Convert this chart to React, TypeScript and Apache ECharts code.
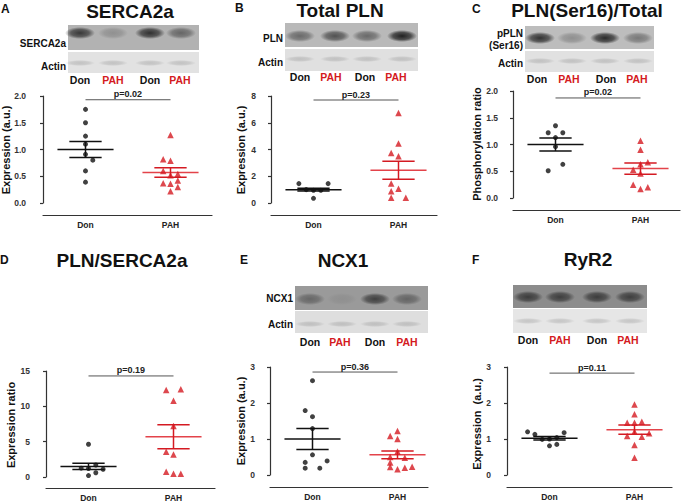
import { useEffect, useRef } from 'react';
import * as echarts from 'echarts';

// ---------- data ----------
const groups = ['Don', 'PAH'];
const panelLetters = ['A', 'B', 'C', 'D', 'E', 'F'];
const panelTitles = ['SERCA2a', 'Total PLN', 'PLN(Ser16)/Total', 'PLN/SERCA2a', 'NCX1', 'RyR2'];
const yAxisNames = ['Expression (a.u.)', 'Expression (a.u.)', 'Phosphorylation ratio', 'Expression ratio', 'Expression (a.u.)', 'Expression  (a.u.)'];
const pTexts = ['p=0.02', 'p=0.23', 'p=0.02', 'p=0.19', 'p=0.36', 'p=0.11'];
const yMax = [2, 8, 2, 15, 3, 3];
const yInterval = [0.5, 2, 0.5, 5, 1, 1];
const yDecimals = [1, 0, 1, 0, 0, 0];
const pLevel = [1.93, 7.7, 1.87, 14.3, 2.86, 2.83];

const donSERCA = [1.75, 1.5, 1.25, 1.1, 0.91, 0.8, 0.6, 0.39];
const donSERCACol = [0, 0, 0, 0, 0, 1, 0, 0];
const pahSERCA = [1.27, 0.82, 0.79, 0.6, 0.52, 0.54, 0.37, 0.36, 0.42, 0.3, 0.22];
const pahSERCACol = [0, -1, 0, -1, 0, 1, -1, 0, 1, 1, 0];

const donPLN = [1.45, 1.45, 1.0, 0.95, 0.95, 0.35];
const donPLNCol = [-2, 2, -1, 0, 1, 0];
const pahPLN = [6.73, 4.44, 3.74, 3.49, 1.45, 1.07, 0.87, 0.4, 0.4];
const pahPLNCol = [0, 0, -1, 0, -1, 0, -1, -1, 1];

const donPhos = [1.35, 1.22, 1.22, 1.13, 0.96, 0.63, 0.51];
const donPhosCol = [0, -1, 1, 0, 0, 1, -1];
const pahPhos = [1.07, 0.9, 0.63, 0.67, 0.53, 0.46, 0.25, 0.17, 0.2];
const pahPhosCol = [0, 0, 0, 1, -1, 0, -1, 0, 1];

const donRatio = [4.63, 1.25, 1.2, 1.7, 1.1, 0.2, 0.6];
const donRatioCol = [0, -1, 0, 1, 2, 0, 1];
const pahRatio = [12.3, 12.4, 10.8, 7.2, 3.56, 3.2, 0.75, 0.47, 0.47];
const pahRatioCol = [-1, 1, 0, 0, -1, 0, -1, 0, 1];

const donNCX = [2.62, 1.79, 1.62, 1.29, 0.56, 0.35, 0.39, 0.19, 0.19];
const donNCXCol = [0, -1, 0, 0, 0, -1, 2, -1, 1];
const pahNCX = [1.22, 1.08, 1.0, 0.65, 0.5, 0.48, 0.35, 0.22, 0.16, 0.2, 0.23];
const pahNCXCol = [0, -1, 0, 0, -1, 1, -1, -1, 0, 1, 2];

const donRyR = [1.2, 1.13, 1.175, 0.99, 1.0, 1.04, 0.81, 0.85];
const donRyRCol = [-3, -2, 2, -1, 0, 1, 0, 1];
const pahRyR = [1.96, 1.69, 1.45, 1.45, 1.48, 1.2, 1.08, 1.06, 1.16, 0.83, 0.48];
const pahRyRCol = [0, 0, -1, 0, 1, 0, -1, 1, 2, 0, 0];

const donMean = [1.0, 1.0, 1.0, 1.5, 1.0, 1.02];
const donSem = [0.15, 0.1, 0.12, 0.45, 0.29, 0.05];
const pahMean = [0.57, 2.45, 0.55, 5.7, 0.56, 1.26];
const pahSem = [0.09, 0.67, 0.105, 1.7, 0.11, 0.13];

const donAll = [donSERCA, donPLN, donPhos, donRatio, donNCX, donRyR];
const donCols = [donSERCACol, donPLNCol, donPhosCol, donRatioCol, donNCXCol, donRyRCol];
const pahAll = [pahSERCA, pahPLN, pahPhos, pahRatio, pahNCX, pahRyR];
const pahCols = [pahSERCACol, pahPLNCol, pahPhosCol, pahRatioCol, pahNCXCol, pahRyRCol];

// ---------- layout / style ----------
const FONT = '"Liberation Sans", Arial, sans-serif';
const RED = '#d41a22';
const RED_MEAN = '#e3434a';
const BLACK = '#111';
const PX_PER_UNIT = 85;
const COL_W = 0.086;

const layouts = [
  { left: 43, top: 96, width: 169, height: 107, xOff: 12, yOff: 13, titleX: 130, titleY: 11.6, letterX: 1, letterY: 9, nameX: 6, nameY: 150 },
  { left: 271, top: 96, width: 166, height: 107, xOff: 12, yOff: 11, titleX: 340, titleY: 10.5, letterX: 235, letterY: 7.5, nameX: 241, nameY: 150 },
  { left: 513, top: 91, width: 167, height: 107, xOff: 12, yOff: 11, titleX: 587, titleY: 10.8, letterX: 472, letterY: 9, nameX: 477, nameY: 144 },
  { left: 46, top: 371, width: 169, height: 107, xOff: 11, yOff: 12, titleX: 122, titleY: 260, letterX: 0, letterY: 260, nameX: 11, nameY: 425 },
  { left: 270, top: 367, width: 158, height: 108, xOff: 12, yOff: 11, titleX: 343, titleY: 260, letterX: 240, letterY: 260, nameX: 241, nameY: 421 },
  { left: 507, top: 367, width: 165, height: 108, xOff: 12, yOff: 12, titleX: 588, titleY: 259.5, letterX: 472, letterY: 260, nameX: 477, nameY: 424 },
];

const blots = [
  { x: 68, w: 131, y1: 25, h1: 25, y2: 52, h2: 21, bg1: '#b2b2b2', bg2: '#e2e2e2', lanes: [80, 113, 150, 181], ints: [0.8, 0.22, 0.85, 0.5], bandY: 33, actinY: 63, labels: [['SERCA2a', 43], ['Actin', 66]], laneY: 80, laneX: [80, 113, 150, 180] },
  { x: 285, w: 133, y1: 23, h1: 24, y2: 49, h2: 22, bg1: '#b9b9b9', bg2: '#e0e0e0', lanes: [300, 335, 367, 402], ints: [0.5, 0.65, 0.5, 0.95], bandY: 36, actinY: 59, labels: [['PLN', 38], ['Actin', 62]], laneY: 77, laneX: [300, 331, 365, 396] },
  { x: 525, w: 129, y1: 26, h1: 23, y2: 51, h2: 21, bg1: '#bdbdbd', bg2: '#e1e1e1', lanes: [540, 572, 605, 638], ints: [0.85, 0.28, 0.9, 0.42], bandY: 38, actinY: 61, labels: [['pPLN', 33], ['(Ser16)', 45], ['Actin', 63]], laneY: 79, laneX: [537, 569, 606, 637] },
  null,
  { x: 295, w: 133, y1: 286, h1: 24, y2: 311, h2: 22, bg1: '#9a9a9a', bg2: '#dedede', lanes: [310, 342, 375, 407], ints: [0.4, 0.08, 0.7, 0.42], bandY: 299, actinY: 324, labels: [['NCX1', 298], ['Actin', 324]], laneY: 342, laneX: [310, 340, 375, 407] },
  { x: 513, w: 134, y1: 285, h1: 23, y2: 309, h2: 24, bg1: '#8c8c8c', bg2: '#e6e6e6', lanes: [528, 560, 597, 630], ints: [0.7, 0.68, 0.7, 0.68], bandY: 297, actinY: 321, labels: [], laneY: 340, laneX: [528, 560, 597, 628] },
];

function band(cx: number, cy: number, rx: number, ry: number, a: number) {
  return {
    type: 'ellipse',
    shape: { cx, cy, rx, ry },
    style: {
      fill: new echarts.graphic.RadialGradient(0.5, 0.5, 0.5, [
        { offset: 0, color: `rgba(25,25,25,${a})` },
        { offset: 0.6, color: `rgba(25,25,25,${a * 0.7})` },
        { offset: 1, color: 'rgba(25,25,25,0)' },
      ]),
    },
    silent: true,
  };
}

function txt(text: string, x: number, y: number, size: number, opts: any = {}) {
  return {
    type: 'text',
    x,
    y,
    rotation: opts.rotation || 0,
    silent: true,
    style: {
      text,
      fill: opts.color || BLACK,
      fontSize: size,
      fontWeight: 'bold',
      fontFamily: FONT,
      align: opts.align || 'center',
      verticalAlign: 'middle',
    },
  };
}

function buildOption() {
  const grid: any[] = [];
  const xAxis: any[] = [];
  const yAxis: any[] = [];
  const series: any[] = [];
  const graphic: any[] = [];

  layouts.forEach((L, i) => {
    grid.push({ left: L.left, top: L.top, width: L.width, height: L.height, containLabel: false });
    xAxis.push({
      type: 'value',
      gridIndex: i,
      min: 0,
      max: L.width / PX_PER_UNIT,
      interval: 0.5,
      offset: L.xOff,
      splitLine: { show: false },
      axisTick: { show: false },
      axisLine: { show: true, onZero: false, lineStyle: { color: '#333', width: 1.2 } },
      axisLabel: {
        fontSize: 8.5,
        fontWeight: 'bold',
        fontFamily: FONT,
        color: '#222',
        margin: 5,
        showMinLabel: true,
        showMaxLabel: true,
        formatter: (v: number) => (Math.abs(v - 0.5) < 1e-6 ? groups[0] : Math.abs(v - 1.5) < 1e-6 ? groups[1] : ''),
      },
    });
    yAxis.push({
      type: 'value',
      gridIndex: i,
      min: 0,
      max: yMax[i],
      interval: yInterval[i],
      offset: L.yOff,
      splitLine: { show: false },
      axisLine: { show: true, lineStyle: { color: '#333', width: 1.2 } },
      axisTick: { show: true, length: 3, lineStyle: { color: '#333', width: 1.2 } },
      axisLabel: {
        fontSize: 8.5,
        fontWeight: 'bold',
        fontFamily: FONT,
        color: '#333',
        margin: 4,
        formatter: (v: number) => v.toFixed(yDecimals[i]),
      },
    });

    // mean ± SEM
    series.push({
      type: 'custom',
      xAxisIndex: i,
      yAxisIndex: i,
      clip: false,
      z: 2,
      data: [
        [0.5, donMean[i], donSem[i], 0],
        [1.5, pahMean[i], pahSem[i], 1],
      ],
      renderItem: (params: any, api: any) => {
        const cx = api.value(0);
        const m = api.value(1);
        const s = api.value(2);
        const g = api.value(3);
        const c1 = g === 0 ? BLACK : RED_MEAN;
        const c2 = g === 0 ? BLACK : RED;
        const segs: any[] = [
          [cx - 0.33, m, cx + 0.33, m, c1],
          [cx - 0.19, m + s, cx + 0.19, m + s, c2],
          [cx - 0.19, m - s, cx + 0.19, m - s, c2],
          [cx, m - s, cx, m + s, c2],
        ];
        return {
          type: 'group',
          children: segs.map((sg) => {
            const a = api.coord([sg[0], sg[1]]);
            const b = api.coord([sg[2], sg[3]]);
            return { type: 'line', shape: { x1: a[0], y1: a[1], x2: b[0], y2: b[1] }, style: { stroke: sg[4], lineWidth: 1.5 } };
          }),
        };
      },
    });

    // p-value bracket
    series.push({
      type: 'custom',
      xAxisIndex: i,
      yAxisIndex: i,
      clip: false,
      z: 2,
      data: [[0.5, 1.5, pLevel[i]]],
      renderItem: (params: any, api: any) => {
        const a = api.coord([api.value(0), api.value(2)]);
        const b = api.coord([api.value(1), api.value(2)]);
        return {
          type: 'group',
          children: [
            { type: 'line', shape: { x1: a[0], y1: a[1], x2: b[0], y2: b[1] }, style: { stroke: '#555', lineWidth: 1 } },
            {
              type: 'text',
              style: {
                text: pTexts[i],
                x: (a[0] + b[0]) / 2,
                y: a[1] - 1,
                align: 'center',
                verticalAlign: 'bottom',
                fontSize: 9,
                fontWeight: 'bold',
                fontFamily: FONT,
                fill: '#222',
              },
            },
          ],
        };
      },
    });

    series.push({
      type: 'scatter',
      xAxisIndex: i,
      yAxisIndex: i,
      symbol: 'circle',
      symbolSize: 5,
      z: 3,
      itemStyle: { color: BLACK },
      data: donAll[i].map((v, k) => [0.5 + donCols[i][k] * COL_W, v]),
    });
    series.push({
      type: 'scatter',
      xAxisIndex: i,
      yAxisIndex: i,
      symbol: 'triangle',
      symbolSize: 6.5,
      z: 3,
      itemStyle: { color: RED },
      data: pahAll[i].map((v, k) => [1.5 + pahCols[i][k] * COL_W, v]),
    });

    // titles, letters, axis names
    graphic.push(txt(panelTitles[i], L.titleX, L.titleY, 19));
    graphic.push(txt(panelLetters[i], L.letterX, L.letterY, 12, { align: 'left' }));
    graphic.push(txt(yAxisNames[i], L.nameX, L.nameY, 11, { rotation: Math.PI / 2 }));

    const B = blots[i];
    if (B) {
      graphic.push({ type: 'rect', silent: true, shape: { x: B.x, y: B.y1, width: B.w, height: B.h1 }, style: { fill: B.bg1 } });
      graphic.push({ type: 'rect', silent: true, shape: { x: B.x, y: B.y2, width: B.w, height: B.h2 }, style: { fill: B.bg2 } });
      B.lanes.forEach((lx, k) => {
        graphic.push(band(lx, B.bandY, 15, 6, B.ints[k]));
        graphic.push(band(lx, B.actinY, 15, 3, 0.16));
      });
      B.labels.forEach((lb: any) => graphic.push(txt(lb[0], B.x - 2, lb[1], 10, { align: 'right' })));
      B.laneX.forEach((lx, k) => graphic.push(txt(k % 2 === 0 ? groups[0] : groups[1], lx, B.laneY, 10.5, { color: k % 2 === 0 ? BLACK : RED })));
    }
  });

  return {
    animation: false,
    backgroundColor: '#ffffff',
    textStyle: { fontFamily: FONT },
    grid,
    xAxis,
    yAxis,
    series,
    graphic,
  };
}

export default function App() {
  const ref = useRef<HTMLDivElement>(null);
  useEffect(() => {
    if (!ref.current) return;
    const chart = echarts.init(ref.current, undefined, { renderer: 'svg' });
    chart.setOption(buildOption() as any);
    return () => chart.dispose();
  }, []);
  return <div ref={ref} style={{ position: 'fixed', left: 0, top: 0, width: 683, height: 502, background: '#fff' }} />;
}
